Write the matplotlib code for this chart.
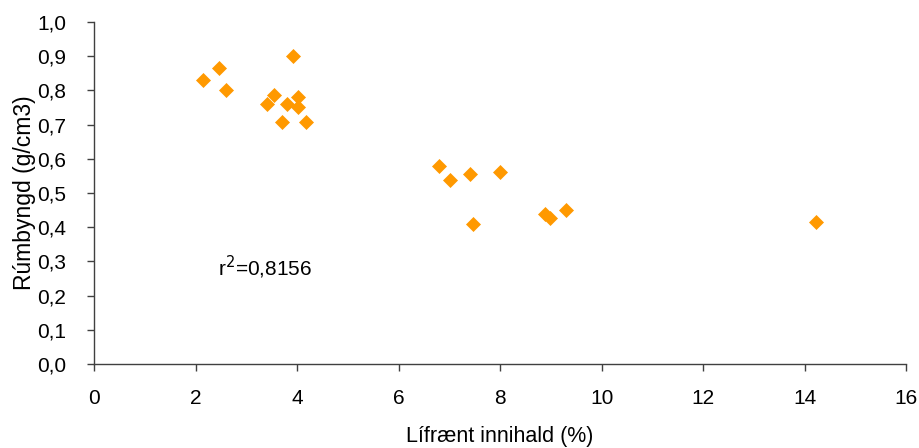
import matplotlib
matplotlib.use('Agg')
import matplotlib.pyplot as plt

# Lífrænt innihald (%) vs Rúmþyngd (g/cm3)
organic = [2.15, 2.46, 2.60, 3.92, 3.41, 3.55, 3.70, 3.80, 4.02, 4.02, 4.18,
           6.80, 7.01, 7.41, 8.00, 7.47, 8.89, 8.99, 9.30, 14.23]
density = [0.830, 0.865, 0.801, 0.901, 0.760, 0.785, 0.708, 0.760, 0.781, 0.751, 0.708,
           0.579, 0.538, 0.556, 0.561, 0.409, 0.439, 0.427, 0.450, 0.415]

x_ticks = list(range(0, 17, 2))
y_ticks = [i / 10 for i in range(11)]
y_labels = ['%.1f' % v for v in y_ticks]
y_labels = [s.replace('.', ',') for s in y_labels]

plt.rcParams['font.family'] = ['Liberation Sans', 'DejaVu Sans']

fig = plt.figure(figsize=(9.19, 4.48), dpi=100)
ax = fig.add_axes([0.1023, 0.1875, 0.8837, 0.7635])

ax.plot(organic, density, linestyle='none', marker='D', markersize=7,
        color='#ff9900', markeredgecolor='#ff9900', markeredgewidth=0.5)

ax.set_xlim(0, 16)
ax.set_ylim(0, 1.0)
ax.set_xticks(x_ticks)
ax.set_yticks(y_ticks)
ax.set_yticklabels(y_labels)

for side in ['top', 'right']:
    ax.spines[side].set_visible(False)
for side in ['left', 'bottom']:
    ax.spines[side].set_color('#404040')
    ax.spines[side].set_linewidth(1.0)
ax.tick_params(direction='out', length=5, width=1.0, color='#404040',
               labelsize=15)
ax.tick_params(axis='x', pad=13)
ax.tick_params(axis='y', pad=15)

ax.set_xlabel('Lífrænt innihald (%)', fontsize=15.5, va='center')
ax.set_ylabel('Rúmbyngd (g/cm3)', fontsize=16.5, va='center')
ax.xaxis.set_label_coords(0.5, -0.213)
ax.yaxis.set_label_coords(-0.085, 0.5)

ax.text(2.45, 0.257, 'r$^2$=0,8156', fontsize=15, va='baseline',
        math_fontfamily='dejavusans')

fig.savefig('out.png', dpi=100)
